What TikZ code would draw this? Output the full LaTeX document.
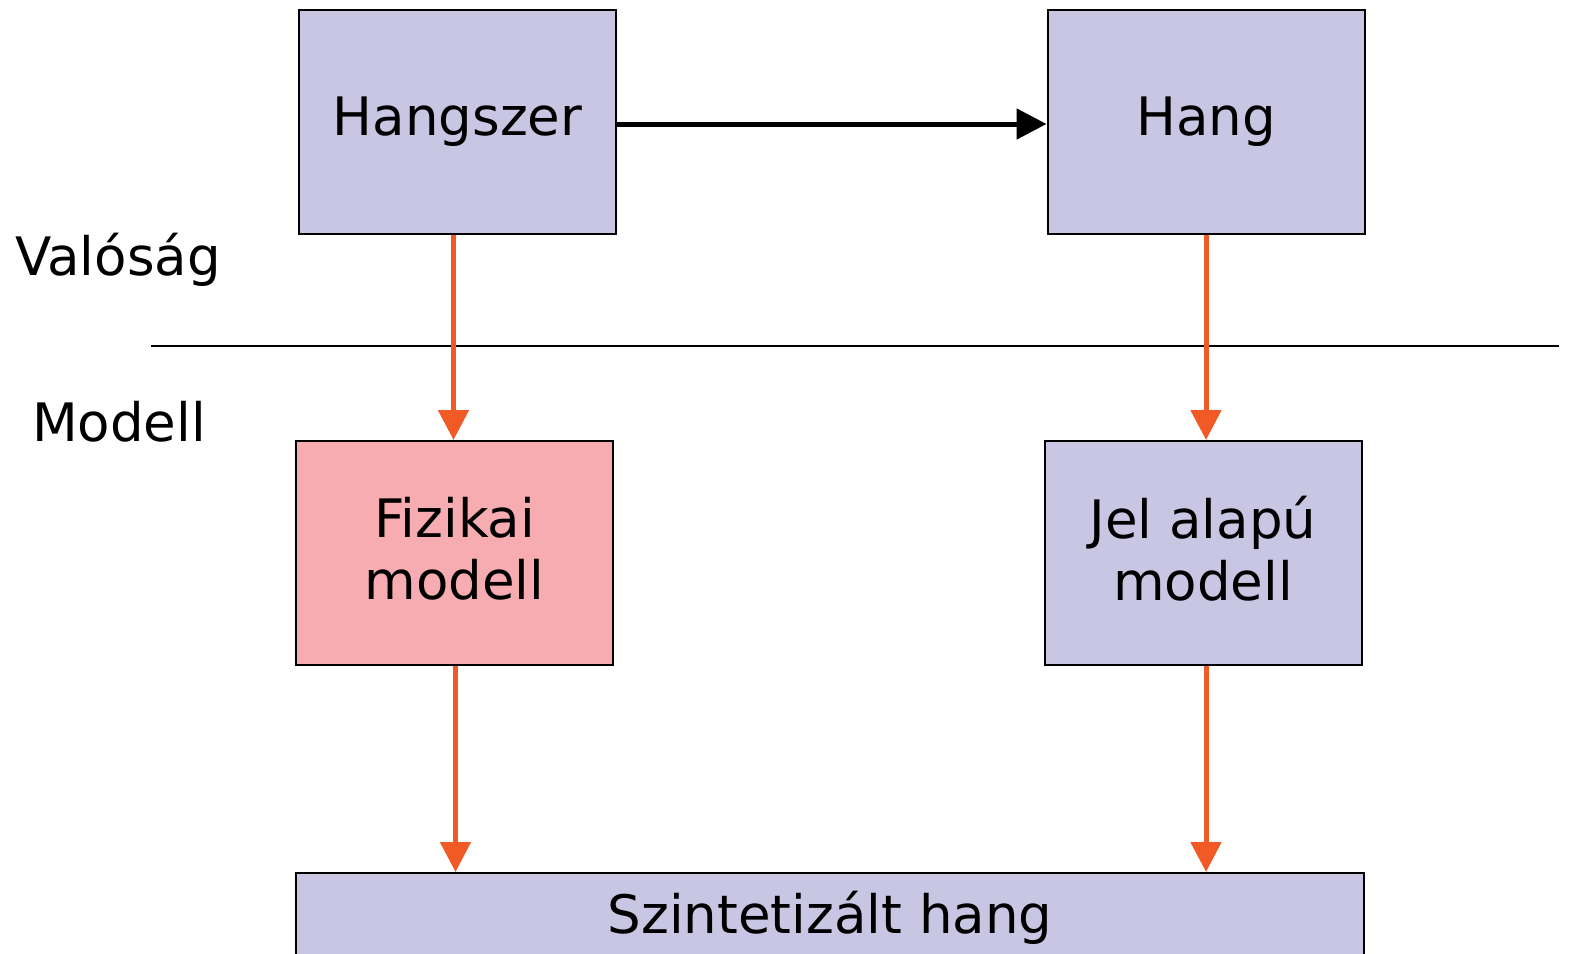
\documentclass[tikz,border=0pt]{standalone}
\usepackage{fontspec}
\setmainfont{DejaVu Sans}
\usetikzlibrary{arrows.meta}
\definecolor{lav}{HTML}{C8C6E2}
\definecolor{pinkbox}{HTML}{F6ACB0}
\definecolor{orangearr}{HTML}{F15A24}
\tikzset{
  box/.style={draw=black, line width=2pt, fill=lav, minimum width=317pt, minimum height=224pt, inner sep=0pt, align=center, font=\fontsize{53}{62}\selectfont},
  lbl/.style={inner sep=0pt, font=\fontsize{53}{62}\selectfont},
  inlbl/.style={inner sep=0pt, align=center, font=\fontsize{53}{62}\selectfont, yshift=4pt},
  oarrow/.style={draw=orangearr, line width=5pt, -{Triangle[length=30pt,width=30pt]}},
  barrow/.style={draw=black, line width=5pt, -{Triangle[length=30pt,width=30pt]}},
}
\begin{document}
\begin{tikzpicture}[x=1pt,y=-1pt]
\useasboundingbox (0,0) rectangle (1570,953);
\clip (0,0) rectangle (1570,953);
\node[box] (hangszer) at (457.5,122) {Hangszer};
\node[box] (hang) at (1206,122) {Hang};
\node[box, fill=pinkbox, label={[inlbl]center:Fizikai\\modell}] (fiz) at (454.5,553) {};
\node[box, label={[inlbl]center:Jel alapú\\modell}] (jel) at (1203,553) {};
\node[box, minimum width=1068pt, minimum height=90pt] (szint) at (830,918) {Szintetizált hang};
\node[lbl] (val) at (118,260) {Valóság};
\node[lbl] (mod) at (119,422) {Modell};
\coordinate (lineL) at (151,346);
\coordinate (lineR) at (1559,346);
\draw[line width=1.5pt] (lineL) -- (lineR);
\draw[barrow] ([yshift=-2pt]hangszer.east) -- ([yshift=-2pt]hang.west);
\draw[oarrow] ([xshift=-4pt]hangszer.south) -- ([xshift=-4pt]hangszer.south |- fiz.north);
\draw[oarrow] (hang.south) -- (hang.south |- jel.north);
\draw[oarrow] ([xshift=1pt]fiz.south) -- ([xshift=1pt]fiz.south |- szint.north);
\draw[oarrow] ([xshift=3pt]jel.south) -- ([xshift=3pt]jel.south |- szint.north);
\end{tikzpicture}
\end{document}
